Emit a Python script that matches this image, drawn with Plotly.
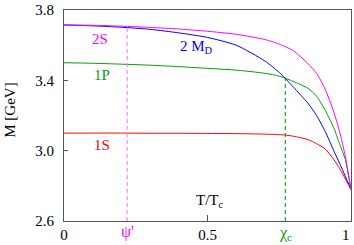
import numpy as np
import plotly.graph_objects as go

# T/Tc grid
T = [0, 0.1, 0.2, 0.3, 0.4, 0.5, 0.6, 0.7, 0.75, 0.77, 0.8, 0.85, 0.88, 0.91, 0.94, 0.96, 0.98, 1.0]

m_2S = [3.715, 3.713, 3.708, 3.701, 3.692, 3.679, 3.662, 3.632, 3.606, 3.592, 3.568, 3.495, 3.44, 3.35, 3.22, 3.11, 2.97, 2.78]
m_2MD = [3.715, 3.710, 3.702, 3.690, 3.670, 3.644, 3.600, 3.510, 3.445, 3.413, 3.36, 3.27, 3.20, 3.11, 3.00, 2.93, 2.855, 2.78]
m_1P = [3.500, 3.497, 3.492, 3.486, 3.478, 3.468, 3.458, 3.440, 3.424, 3.413, 3.393, 3.355, 3.31, 3.23, 3.13, 3.04, 2.95, 2.78]
m_1S = [3.100, 3.100, 3.100, 3.099, 3.099, 3.098, 3.097, 3.094, 3.091, 3.089, 3.082, 3.063, 3.04, 3.01, 2.95, 2.90, 2.84, 2.78]

psi_T = 0.22    # psi' dissociation
chi_T = 0.771   # chi_c dissociation

y_ticks = [2.6, 3.0, 3.4, 3.8]
x_ticks = [0, 0.5]
x_ticktext = ["0", "0.5"]
x_last = 1
x_last_text = "1"

MAG = "#ff00ff"
MAG_DASH = "#ff66ff"
BLUE = "#0000ff"
GREEN = "#00a000"
GREEN_DASH = "#008800"
RED = "#ff0000"
FONT = "Liberation Serif, Times New Roman, serif"

fig = go.Figure()
for y, c in [(m_1S, RED), (m_1P, GREEN), (m_2MD, BLUE), (m_2S, MAG)]:
    fig.add_trace(go.Scatter(x=T, y=y, mode="lines", line=dict(color=c, width=1, shape="spline", smoothing=0.6),
                             showlegend=False, hoverinfo="skip"))

psi_top = float(np.interp(psi_T, T, m_2S))
chi_top = float(np.interp(chi_T, T, m_1P))
fig.add_trace(go.Scatter(x=[psi_T, psi_T], y=[2.6, psi_top], mode="lines",
                         line=dict(color=MAG_DASH, width=1, dash="4px,3px"), showlegend=False, hoverinfo="skip"))
fig.add_trace(go.Scatter(x=[chi_T, chi_T], y=[2.6, chi_top], mode="lines",
                         line=dict(color=GREEN_DASH, width=1, dash="4px,3px"), showlegend=False, hoverinfo="skip"))

ann = []
def txt(x, y, s, color, size=15, xref="x", yref="y", **kw):
    ann.append(dict(x=x, y=y, xref=xref, yref=yref, text=s, showarrow=False,
                    font=dict(family=FONT, size=size, color=color), **kw))

txt(0.125, 3.635, "2S", MAG)
txt(0.131, 3.431, "1P", GREEN)
txt(0.131, 3.033, "1S", RED)
txt(0.462, 3.592, "2 M<sub>D</sub>", BLUE)
txt(0.508, 2.715, "T/T<sub>c</sub>", "black")
txt(psi_T, -0.05, "ψ'", MAG, size=16, yref="paper", yanchor="middle")
txt(chi_T, -0.06, "χ<sub>c</sub>", GREEN, size=16, yref="paper", yanchor="middle")
txt(x_last, -0.025, x_last_text, "black", yref="paper", yanchor="top", xanchor="right", borderpad=0)
txt(-0.222, 0.524, "M [GeV]", "black", xref="paper", yref="paper", textangle=-90)

fig.update_layout(
    width=354, height=245,
    margin=dict(l=64, r=2, t=5, b=24),
    plot_bgcolor="white", paper_bgcolor="white",
    annotations=ann,
    font=dict(family=FONT, size=15, color="black"),
    xaxis=dict(range=[0, 1], tickvals=x_ticks, ticktext=x_ticktext, ticks="inside", ticklen=6,
               tickcolor="#555", showgrid=False, zeroline=False, showline=True, linecolor="#555",
               linewidth=1, mirror=True, tickfont=dict(family=FONT, size=15)),
    yaxis=dict(range=[2.6, 3.8], tickvals=y_ticks, tickformat=".1f", ticks="inside", ticklen=4,
               tickcolor="#555", showgrid=False, zeroline=False, showline=True, linecolor="#555",
               linewidth=1, mirror=True, tickfont=dict(family=FONT, size=15), ticklabelstandoff=6,
               ticklabeloverflow="allow"),
)
fig.write_html("out.html", config={"displayModeBar": False},
               post_script="document.body.style.margin='0';document.body.style.overflow='hidden';"
                           "document.documentElement.style.overflow='hidden';")
